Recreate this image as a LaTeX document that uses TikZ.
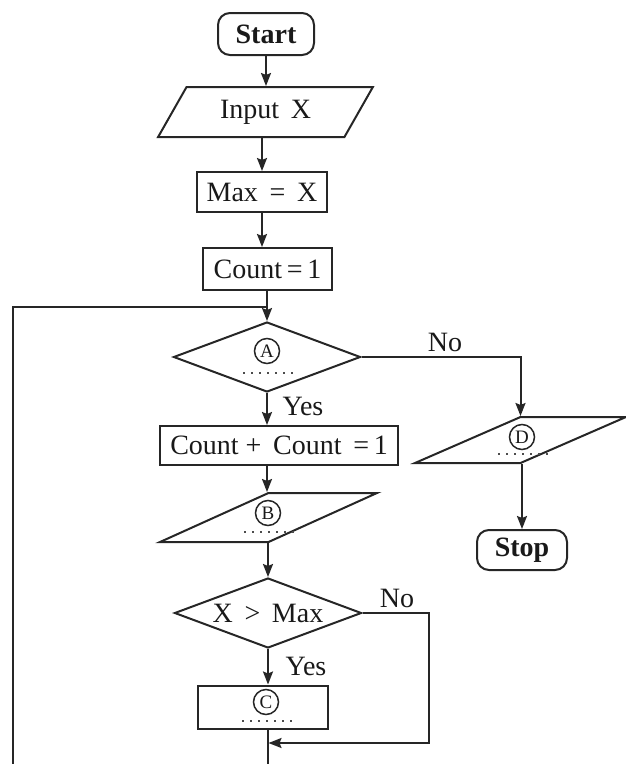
\documentclass[tikz,border=0pt]{standalone}
\usepackage{fontspec}
\setmainfont{Liberation Serif}
\usetikzlibrary{shapes.geometric,arrows.meta}
\tikzset{
  base/.style={draw=black!85, line width=2pt, inner sep=0pt, font=\fontsize{28}{30}\selectfont, text=black!90},
  procbox/.style={base, rectangle},
  termbox/.style={base, rectangle, rounded corners=12pt, font=\fontsize{28}{30}\selectfont\bfseries},
  iobox/.style={base, trapezium, trapezium left angle=56, trapezium right angle=124, trapezium stretches=true},
  decbox/.style={base, diamond, aspect=2.7},
  circlab/.style={circle, draw=black!85, line width=1.5pt, inner sep=0pt, minimum size=25pt, font=\fontsize{19}{19}\selectfont, text=black!90},
  dotline/.style={draw=black!70, line width=1.8pt, dash pattern=on 2pt off 6pt},
  lbl/.style={inner sep=0pt, font=\fontsize{28}{30}\selectfont, text=black!90},
  conn/.style={draw=black!85, line width=2pt},
  arr/.style={conn, -{Stealth[length=13pt, width=10pt, inset=2pt]}}
}
\begin{document}
\begin{tikzpicture}[x=1pt, y=-1pt]
\useasboundingbox (0,0) rectangle (626,764);

% spine nodes
\node[termbox, minimum width=96pt, minimum height=42pt] (start) at (266,34) {Start};
\node[iobox, minimum width=215pt, minimum height=50pt] (input) at (265.5,112) {Input\, X};
\node[procbox, minimum width=130pt, minimum height=40pt] (maxx) at (262,192) {Max\, =\, X};
\node[procbox, minimum width=129pt, minimum height=42pt] (count1) at (267.5,269) {Count\,=\,1};
\node[decbox, minimum width=187pt, minimum height=70pt] (A) at (267,357) {\strut};
\node[procbox, minimum width=238pt, minimum height=39pt] (cc) at (279,445.5) {Count +\, Count \,=\,1};
\node[iobox, minimum width=217pt, minimum height=49pt] (B) at (268.5,517.5) {\strut};
\node[decbox, minimum width=187pt, minimum height=70pt] (X) at (268,613) {X\, >\, Max};
\node[procbox, minimum width=130pt, minimum height=43pt] (C) at (263,707) {\strut};

% right branch
\node[iobox, minimum width=211pt, minimum height=46pt] (D) at (520.5,440) {\strut};
\node[termbox, minimum width=90pt, minimum height=40pt] (stop) at (522,550) {Stop};

% circled placeholders
\node[circlab] (Acirc) at (267,351) {A};
\node[circlab] (Bcirc) at (268,513) {B};
\node[circlab] (Ccirc) at (266,702) {C};
\node[circlab] (Dcirc) at (522,437) {D};

% dotted answer lines
\draw[dotline] ([xshift=-24pt, yshift=-9pt]Acirc.south) -- ++(50,0);
\draw[dotline] ([xshift=-24pt, yshift=-6pt]Bcirc.south) -- ++(50,0);
\draw[dotline] ([xshift=-24pt, yshift=-6pt]Ccirc.south) -- ++(50,0);
\draw[dotline] ([xshift=-24pt, yshift=-4pt]Dcirc.south) -- ++(50,0);

% labels
\node[lbl] (no1) at (445,342) {No};
\node[lbl] (yes1) at (303,406) {Yes};
\node[lbl] (no2) at (397,598) {No};
\node[lbl] (yes2) at (306,666) {Yes};

% helper coordinates
\coordinate (loopJ) at (267,307);
\coordinate (loopL) at (13,307);
\coordinate (botL) at (13,764);
\coordinate (nr) at (429,743);
\coordinate (merge) at (268.5,743);
\coordinate (botC) at (267.5,764);

% spine connectors
\draw[arr] (start.south) -- (start.south |- input.north);
\draw[arr] (input.south -| maxx.south) -- (maxx.north);
\draw[arr] (maxx.south) -- (maxx.south |- count1.north);
\draw[arr] (count1.south -| A.north) -- (A.north);
\draw[arr] (A.south) -- (A.south |- cc.north);
\draw[arr] (cc.south -| A.south) -- (A.south |- B.north);
\draw[arr] (B.south -| X.north) -- (X.north);
\draw[arr] (X.south) -- (X.south |- C.north);
\draw[conn] (C.south -| botC) -- (botC);

% loop back
\draw[conn] (botL) -- (loopL) -- (loopJ);

% No from A
\draw[arr] (A.east) -| (D.north);
\draw[arr] (D.south -| stop.north) -- (stop.north);

% No from X > Max
\draw[arr] (X.east) -| (nr) -- (merge);
\end{tikzpicture}
\end{document}
